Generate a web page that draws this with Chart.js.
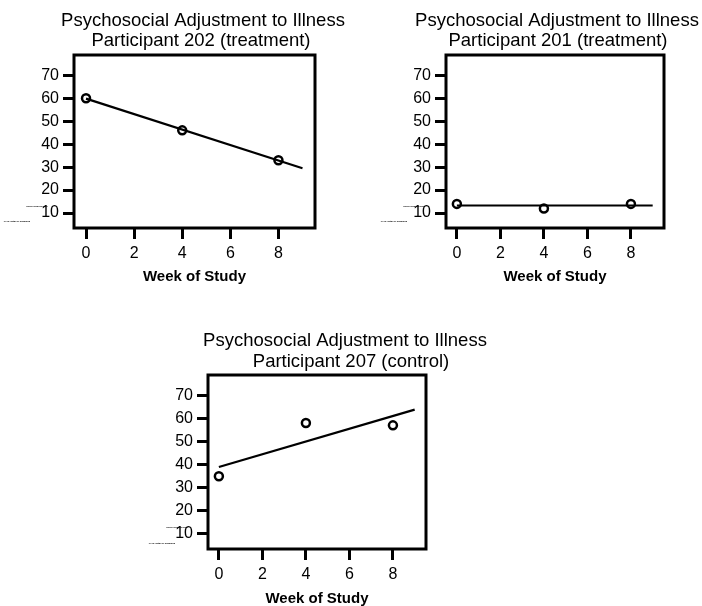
<!DOCTYPE html>
<html><head><meta charset="utf-8">
<script src="https://cdn.jsdelivr.net/npm/chart.js@4.4.1/dist/chart.umd.min.js"></script>
<style>
html,body{margin:0;padding:0;background:#fff;width:702px;height:606px;overflow:hidden;position:relative}
.c{position:absolute}
</style></head><body>
<div class="c" style="left:0px;top:0px;width:355px;height:300px"><canvas id="c1"></canvas></div>
<div class="c" style="left:360px;top:0px;width:342px;height:300px"><canvas id="c2"></canvas></div>
<div class="c" style="left:130px;top:320px;width:380px;height:288px"><canvas id="c3"></canvas></div>
<script>
// ---- data ----
const weeks = [0, 4, 8];
const p202Scores = [60, 46, 33];
const p201Scores = [14, 12, 14];
const p207Scores = [35, 58, 57];
const fitWeeks = [0, 9];
const p202Fit = [59.8, 29.5];
const p201Fit = [13.3, 13.3];
const p207Fit = [39.0, 63.8];
const yTickValues = [10, 20, 30, 40, 50, 60, 70];
const xTickValues = [0, 2, 4, 6, 8];
const titleLine1 = 'Psychosocial Adjustment to Illness';
const participantTitles = ['Participant 202 (treatment)', 'Participant 201 (treatment)', 'Participant 207 (control)'];
const xAxisTitle = 'Week of Study';
const tinyLabels = ['Scale Raw Scores', 'PAIS Total of Domains'];

const FONT = '"Liberation Sans", Arial, Helvetica, sans-serif';
Chart.defaults.font.family = FONT;
Chart.defaults.color = '#000';

const decoPlugin = {
  id: 'deco',
  afterDraw(chart, args, o) {
    const ctx = chart.ctx, a = chart.chartArea;
    ctx.save();
    ctx.strokeStyle = '#000';
    ctx.lineWidth = 3;
    ctx.strokeRect(a.left, a.top, a.right - a.left, a.bottom - a.top);
    ctx.fillStyle = '#000';
    ctx.textAlign = 'center';
    ctx.textBaseline = 'middle';
    ctx.font = '18.5px ' + FONT;
    ctx.fillText(titleLine1, o.tx[0], o.ty[0]);
    ctx.fillText(o.sub, o.tx[1], o.ty[1]);
    ctx.font = 'bold 2.5px ' + FONT;
    ctx.fillText(tinyLabels[0], o.tiny[0][0], o.tiny[0][1]);
    ctx.fillText(tinyLabels[1], o.tiny[1][0], o.tiny[1][1]);
    ctx.restore();
  }
};

function pts(xs, ys) { return xs.map((x, i) => ({ x: x, y: ys[i] })); }

function makeChart(id, scores, fit, L) {
  return new Chart(document.getElementById(id), {
    type: 'scatter',
    data: {
      datasets: [
        { data: pts(fitWeeks, fit), showLine: true, borderColor: '#000', borderWidth: 2.2, pointRadius: 0, fill: false },
        { data: pts(weeks, scores), pointRadius: 4, pointBorderWidth: 2.5, pointBorderColor: '#000', pointBackgroundColor: '#fff' }
      ]
    },
    options: {
      responsive: true, maintainAspectRatio: false, animation: false,
      layout: { padding: { left: 0, top: L.top, right: L.right, bottom: L.bottom } },
      plugins: {
        legend: { display: false }, tooltip: { enabled: false },
        deco: { tx: L.tx, ty: L.ty, sub: L.sub, tiny: L.tiny }
      },
      scales: {
        x: {
          type: 'linear', min: -0.5, max: 9.52,
          afterBuildTicks: s => { s.ticks = xTickValues.map(v => ({ value: v })); },
          afterFit: s => { s.height = L.xh; },
          grid: { drawOnChartArea: false, tickLength: 11, tickWidth: 3, tickColor: '#000' },
          border: { display: false },
          ticks: { color: '#000', font: { size: 16 }, padding: 5, maxRotation: 0, autoSkip: false },
          title: { display: true, text: xAxisTitle, color: '#000', font: { size: 15, weight: 'bold' }, padding: 0 }
        },
        y: {
          type: 'linear', min: 3.5, max: 78.8,
          afterBuildTicks: s => { s.ticks = yTickValues.map(v => ({ value: v })); },
          afterFit: s => { s.width = L.yw; },
          grid: { drawOnChartArea: false, tickLength: 11, tickWidth: 3, tickColor: '#000' },
          border: { display: false },
          ticks: { color: '#000', font: { size: 16 }, padding: 4, autoSkip: false }
        }
      }
    },
    plugins: [decoPlugin]
  });
}

makeChart('c1', p202Scores, p202Fit, { yw: 74, right: 40, top: 55, bottom: 14, xh: 58, tx: [203, 201], ty: [21, 41], sub: participantTitles[0], tiny: [[37, 206], [17, 221]] });
makeChart('c2', p201Scores, p201Fit, { yw: 86, right: 38, top: 55, bottom: 14, xh: 58, tx: [197, 198], ty: [21, 41], sub: participantTitles[1], tiny: [[54, 206], [34, 221]] });
makeChart('c3', p207Scores, p207Fit, { yw: 78, right: 84, top: 55, bottom: 0, xh: 59, tx: [215, 221], ty: [21, 42], sub: participantTitles[2], tiny: [[47, 207], [32, 223]] });
</script>
</body></html>
